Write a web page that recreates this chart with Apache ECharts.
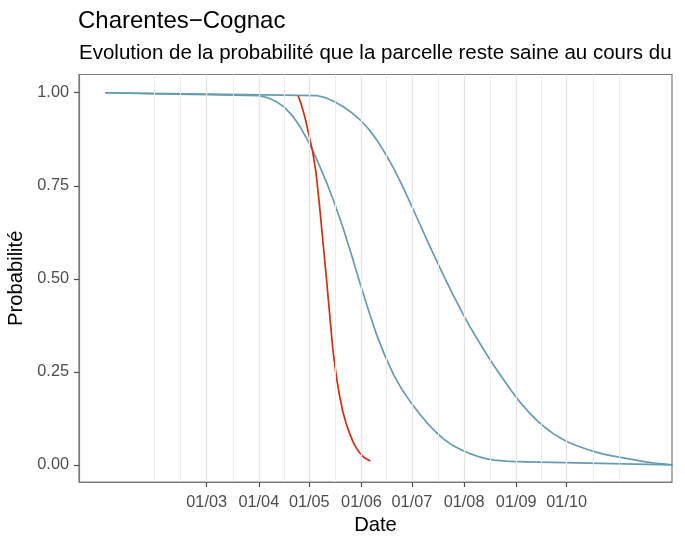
<!DOCTYPE html>
<html><head><meta charset="utf-8">
<script src="https://cdn.jsdelivr.net/npm/echarts@6/dist/echarts.min.js"></script>
<style>html,body{margin:0;padding:0;background:#fff}#c{width:685px;height:536px}</style>
</head><body><div id="c"></div>
<script>
// ---- text ----
const titleText = 'Charentes\u2212Cognac';
const subtitleText = 'Evolution de la probabilité que la parcelle reste saine au cours du';
const xName = 'Date';
const yName = 'Probabilité';

// ---- x axis (day of year, 1 Jan = 0) ----
const tickDays = [59, 90, 120, 151, 181, 212, 243, 273];
const tickLabels = ['01/03', '01/04', '01/05', '01/06', '01/07', '01/08', '01/09', '01/10'];
const minorDays = [28, 43.5, 74.5, 105, 135.5, 166, 196.5, 227.5, 258, 288.5, 304];

// ---- y axis ----
const yTicks = [0, 0.25, 0.5, 0.75, 1];
const yTickLabels = ['0.00', '0.25', '0.50', '0.75', '1.00'];

// ---- series: early blue curve ----
const earlyDays = [-1, 30, 60, 90, 95, 100, 105, 110, 115, 120, 125, 130, 135, 140, 145, 150, 155, 160, 165, 170, 175, 180, 185, 190, 195, 200, 205, 210, 215, 220, 225, 230, 237, 243, 335.6];
const earlyProb = [1.000, 0.997, 0.995, 0.992, 0.987, 0.977, 0.962, 0.938, 0.905, 0.864, 0.815, 0.762, 0.703, 0.638, 0.566, 0.490, 0.418, 0.350, 0.293, 0.243, 0.203, 0.170, 0.140, 0.113, 0.089, 0.069, 0.053, 0.041, 0.031, 0.023, 0.017, 0.013, 0.010, 0.009, 0.000];

// ---- series: late blue curve ----
const lateDays = [-1, 60, 125, 130, 135, 140, 145, 150, 155, 160, 165, 170, 175, 180, 185, 190, 195, 200, 205, 210, 215, 220, 225, 230, 235, 240, 245, 250, 255, 260, 265, 270, 275, 280, 285, 290, 295, 300, 305, 310, 315, 320, 325, 330, 335.6];
const lateProb = [1.000, 0.996, 0.992, 0.986, 0.976, 0.963, 0.947, 0.928, 0.904, 0.874, 0.838, 0.798, 0.753, 0.704, 0.654, 0.604, 0.555, 0.507, 0.461, 0.417, 0.375, 0.337, 0.300, 0.265, 0.232, 0.200, 0.170, 0.144, 0.121, 0.101, 0.084, 0.070, 0.059, 0.050, 0.042, 0.035, 0.029, 0.024, 0.020, 0.016, 0.012, 0.008, 0.005, 0.003, 0.000];

// ---- series: red curve ----
const redDays = [113.5, 115, 117.4, 120, 122, 124, 126, 128, 130, 132, 134, 136, 138, 140, 142, 144, 146, 148, 150, 152, 154, 156];
const redProb = [0.990, 0.972, 0.934, 0.882, 0.842, 0.785, 0.700, 0.605, 0.510, 0.410, 0.310, 0.240, 0.185, 0.142, 0.110, 0.084, 0.062, 0.045, 0.032, 0.022, 0.016, 0.011];

const FONT = 'Liberation Sans, Arial, Helvetica, sans-serif';
const BLUE = '#659cb4';
const RED = '#d62c10';
const FRAME = '#7a7a7a';
const TICK = '#4d4d4d';

const zip = (xs, ys) => xs.map((x, i) => [x, ys[i]]);

const lineSeries = (name, data, color) => ({
  name, type: 'line', data, showSymbol: false, symbol: 'none',
  smooth: false,
  lineStyle: { color, width: 1.7, join: 'round', cap: 'round' }, z: 3, animation: false
});

const chart = echarts.init(document.getElementById('c'), null, { renderer: 'canvas' });
chart.setOption({
  backgroundColor: '#ffffff',
  animation: false,
  title: [
    { text: titleText, left: 78, top: 9, padding: 0,
      textStyle: { fontFamily: FONT, fontSize: 24, fontWeight: 'normal', color: '#000' } },
    { text: subtitleText, left: 79, top: 43, padding: 0,
      textStyle: { fontFamily: FONT, fontSize: 20.5, fontWeight: 'normal', color: '#000' } }
  ],
  grid: { left: 79, right: 13, top: 74.5, bottom: 54, show: true, outerBoundsMode: 'none',
          borderColor: FRAME, borderWidth: 1.2, backgroundColor: 'transparent' },
  xAxis: {
    type: 'value', min: -16.9, max: 335.6,
    name: xName, nameLocation: 'middle', nameGap: 33,
    nameTextStyle: { fontFamily: FONT, fontSize: 20.2, color: '#000' },
    axisLine: { show: true, onZero: false, lineStyle: { color: FRAME, width: 1.2 } },
    axisTick: { show: true, length: 5, customValues: tickDays, lineStyle: { color: TICK, width: 1.2 } },
    axisLabel: { show: true, margin: 13, customValues: tickDays,
      formatter: v => { const i = tickDays.indexOf(v); return i >= 0 ? tickLabels[i] : ''; },
      fontFamily: FONT, fontSize: 16.3, color: '#4d4d4d' },
    splitLine: { show: false }
  },
  yAxis: {
    type: 'value', min: -0.046, max: 1.049,
    name: yName, nameLocation: 'middle', nameGap: 50, nameRotate: 90,
    nameTextStyle: { fontFamily: FONT, fontSize: 20.2, color: '#000' },
    axisLine: { show: true, onZero: false, lineStyle: { color: FRAME, width: 1.2 } },
    axisTick: { show: true, length: 5, customValues: yTicks, lineStyle: { color: TICK, width: 1.2 } },
    axisLabel: { show: true, margin: 10, customValues: yTicks,
      formatter: v => { const i = yTicks.indexOf(v); return i >= 0 ? yTickLabels[i] : ''; },
      fontFamily: FONT, fontSize: 16.3, color: '#4d4d4d' },
    splitLine: { show: false }
  },
  series: [
    { type: 'line', data: [], z: 1, silent: true,
      markLine: { silent: true, symbol: ['none', 'none'], label: { show: false }, animation: false,
        lineStyle: { color: '#ebebeb', width: 0.9, type: 'solid' },
        data: minorDays.map(d => ({ xAxis: d })) } },
    { type: 'line', data: [], z: 1, silent: true,
      markLine: { silent: true, symbol: ['none', 'none'], label: { show: false }, animation: false,
        lineStyle: { color: '#e6e6e6', width: 1.3, type: 'solid' },
        data: tickDays.map(d => ({ xAxis: d })) } },
    lineSeries('late', zip(lateDays, lateProb), BLUE),
    lineSeries('early', zip(earlyDays, earlyProb), BLUE),
    lineSeries('red', zip(redDays, redProb), RED)
  ]
});
</script>
</body></html>
